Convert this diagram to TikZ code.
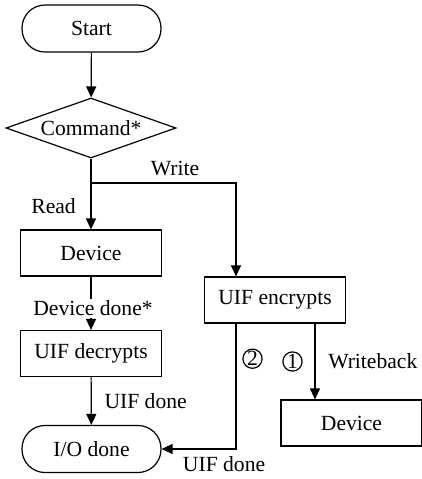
\documentclass[tikz,border=0pt]{standalone}
\usepackage{fontspec}
\setmainfont{Liberation Serif}
\usepackage{tikz}
\usetikzlibrary{arrows.meta, positioning, shapes.geometric}

\tikzset{
	term/.style={draw, rounded corners=11.5pt, minimum width=69.5pt, minimum height=23.5pt, inner sep=0pt},
	box/.style={draw, minimum width=70.5pt, minimum height=23pt, inner sep=0pt},
	decision/.style={draw, diamond, aspect=2.8, minimum width=85pt, minimum height=30pt, inner sep=0pt},
	num/.style={draw, circle, minimum size=9.6pt, inner sep=0pt},
	flow/.style={-{Triangle[length=5.5pt, width=5pt]}},
}

\begin{document}
\begin{tikzpicture}[x=0.5pt, y=-0.5pt, line width=0.6pt, font=\rmfamily\fontsize{10.8}{13}\selectfont]

\useasboundingbox (0,0) rectangle (422,479);

% nodes
\node[term]     (start)  at (91.5, 28.5) {Start};
\node[decision] (cmd)    at (91, 128)    {Command*};
\coordinate     (split)  at (91, 183);
\node[box]      (dev)    at (91, 253)    {Device};
\node[box]      (dec)    at (91, 353.5)  {UIF decrypts};
\node[term]     (iodone) at (91.5, 449)  {I/O done};
\node[box]      (enc)    at (275, 300)   {UIF encrypts};
\node[box]      (devwb)  at (351.5, 423) {Device};

% read path
\draw[flow] (start) -- (cmd);
\draw (cmd.south) -- (split);
\draw[flow] (split) -- node[left, xshift=-4pt] {Read} (dev);
\draw[flow] (dev) -- node[fill=white, inner sep=1pt, pos=0.6, xshift=1pt] {Device done*} (dec);
\draw[flow] (dec) -- node[right, xshift=3pt] {UIF done} (iodone);

% write path
\draw[flow] (split) -- node[above, pos=0.58] {Write} ([xshift=-19.5pt]enc.north |- split) -- ([xshift=-19.5pt]enc.north);
\draw[flow] ([xshift=-19.5pt]enc.south) |- node[below, pos=0.58] {UIF done} (iodone.east)
	node[num, pos=0.14, xshift=8.25pt] {2};
\draw[flow] ([xshift=20pt]enc.south) -- node[right, xshift=3pt] {Writeback}
	node[num, xshift=-11.25pt] {1} ([xshift=20pt]enc.south |- devwb.north);

\end{tikzpicture}
\end{document}
